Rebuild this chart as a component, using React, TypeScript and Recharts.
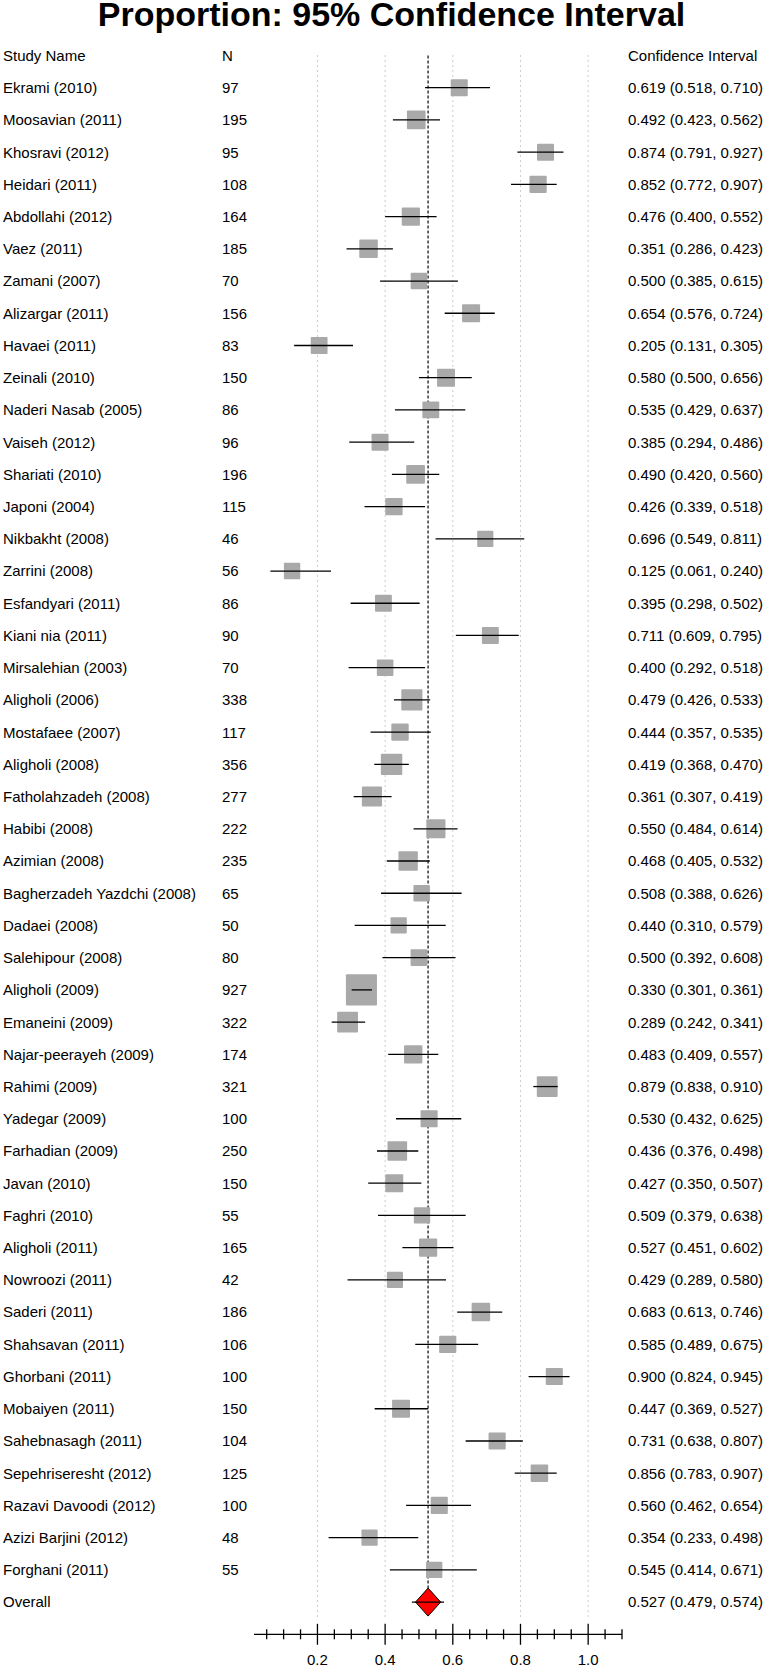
import { ScatterChart, Scatter, XAxis, YAxis, ZAxis, ErrorBar, ReferenceLine } from "recharts";

const FONT = "'Liberation Sans', Arial, sans-serif";

const studyNames = [
  "Ekrami (2010)", "Moosavian (2011)", "Khosravi (2012)", "Heidari (2011)", "Abdollahi (2012)",
  "Vaez (2011)", "Zamani (2007)", "Alizargar (2011)", "Havaei (2011)", "Zeinali (2010)",
  "Naderi Nasab (2005)", "Vaiseh (2012)", "Shariati (2010)", "Japoni (2004)", "Nikbakht (2008)",
  "Zarrini (2008)", "Esfandyari (2011)", "Kiani nia (2011)", "Mirsalehian (2003)", "Aligholi (2006)",
  "Mostafaee (2007)", "Aligholi (2008)", "Fatholahzadeh (2008)", "Habibi (2008)", "Azimian (2008)",
  "Bagherzadeh Yazdchi (2008)", "Dadaei (2008)", "Salehipour (2008)", "Aligholi (2009)", "Emaneini (2009)",
  "Najar-peerayeh (2009)", "Rahimi (2009)", "Yadegar (2009)", "Farhadian (2009)", "Javan (2010)",
  "Faghri (2010)", "Aligholi (2011)", "Nowroozi (2011)", "Saderi (2011)", "Shahsavan (2011)",
  "Ghorbani (2011)", "Mobaiyen (2011)", "Sahebnasagh (2011)", "Sepehriseresht (2012)", "Razavi Davoodi (2012)",
  "Azizi Barjini (2012)", "Forghani (2011)",
];

const sampleSizes = [
  97, 195, 95, 108, 164, 185, 70, 156, 83, 150,
  86, 96, 196, 115, 46, 56, 86, 90, 70, 338,
  117, 356, 277, 222, 235, 65, 50, 80, 927, 322,
  174, 321, 100, 250, 150, 55, 165, 42, 186, 106,
  100, 150, 104, 125, 100, 48, 55,
];

const estimates = [
  0.619, 0.492, 0.874, 0.852, 0.476, 0.351, 0.5, 0.654, 0.205, 0.58,
  0.535, 0.385, 0.49, 0.426, 0.696, 0.125, 0.395, 0.711, 0.4, 0.479,
  0.444, 0.419, 0.361, 0.55, 0.468, 0.508, 0.44, 0.5, 0.33, 0.289,
  0.483, 0.879, 0.53, 0.436, 0.427, 0.509, 0.527, 0.429, 0.683, 0.585,
  0.9, 0.447, 0.731, 0.856, 0.56, 0.354, 0.545,
];

const lowerCI = [
  0.518, 0.423, 0.791, 0.772, 0.4, 0.286, 0.385, 0.576, 0.131, 0.5,
  0.429, 0.294, 0.42, 0.339, 0.549, 0.061, 0.298, 0.609, 0.292, 0.426,
  0.357, 0.368, 0.307, 0.484, 0.405, 0.388, 0.31, 0.392, 0.301, 0.242,
  0.409, 0.838, 0.432, 0.376, 0.35, 0.379, 0.451, 0.289, 0.613, 0.489,
  0.824, 0.369, 0.638, 0.783, 0.462, 0.233, 0.414,
];

const upperCI = [
  0.71, 0.562, 0.927, 0.907, 0.552, 0.423, 0.615, 0.724, 0.305, 0.656,
  0.637, 0.486, 0.56, 0.518, 0.811, 0.24, 0.502, 0.795, 0.518, 0.533,
  0.535, 0.47, 0.419, 0.614, 0.532, 0.626, 0.579, 0.608, 0.361, 0.341,
  0.557, 0.91, 0.625, 0.498, 0.507, 0.638, 0.602, 0.58, 0.746, 0.675,
  0.945, 0.527, 0.807, 0.907, 0.654, 0.498, 0.671,
];

const overallLabel = "Overall";
const overallEstimate = 0.527;
const overallLower = 0.479;
const overallUpper = 0.574;

const xTicks = [
  0.05, 0.1, 0.15, 0.2, 0.25, 0.3, 0.35, 0.4, 0.45, 0.5, 0.55,
  0.6, 0.65, 0.7, 0.75, 0.8, 0.85, 0.9, 0.95, 1.0, 1.05, 1.1,
];
const gridValues = [0.2, 0.4, 0.6, 0.8, 1.0];

const fmt = (est: number, lo: number, hi: number) =>
  `${est.toFixed(3)} (${lo.toFixed(3)}, ${hi.toFixed(3)})`;

const studyRows = studyNames.map((name, i) => ({
  row: i + 1,
  name,
  n: sampleSizes[i],
  est: estimates[i],
  err: [estimates[i] - lowerCI[i], upperCI[i] - estimates[i]],
  ci: fmt(estimates[i], lowerCI[i], upperCI[i]),
}));

const overallRow = {
  row: studyRows.length + 1,
  name: overallLabel,
  n: null as number | null,
  est: overallEstimate,
  err: [overallEstimate - overallLower, overallUpper - overallEstimate],
  ci: fmt(overallEstimate, overallLower, overallUpper),
};

const allRows = [...studyRows, overallRow];
const rowTicks = [0, ...allRows.map((r) => r.row)];
const lastRow = overallRow.row;

const RowLabel = ({ y, payload }: any) => {
  const r = payload.value;
  const d = r === 0 ? null : allRows[r - 1];
  const cells = d
    ? [d.name, d.n == null ? "" : String(d.n), d.ci]
    : ["Study Name", "N", "Confidence Interval"];
  return (
    <g fontFamily={FONT} fontSize={15} fill="#000">
      <text x={3} y={y} dy="0.36em">{cells[0]}</text>
      <text x={222} y={y} dy="0.36em">{cells[1]}</text>
      <text x={628} y={y} dy="0.36em">{cells[2]}</text>
    </g>
  );
};

const AxisTick = ({ x, y, payload }: any) => {
  const v = payload.value;
  const major = Math.abs(v * 5 - Math.round(v * 5)) < 1e-6;
  const h = major ? 10.5 : 5;
  return (
    <g>
      <line x1={x} x2={x} y1={y - h} y2={y + h} stroke="#000" strokeWidth={1.3} />
      {major && (
        <text x={x} y={y + 31} textAnchor="middle" fontFamily={FONT} fontSize={15} fill="#000">
          {v.toFixed(1)}
        </text>
      )}
    </g>
  );
};

const BoxShape = (props: any) => {
  const { cx, cy, size } = props;
  return <rect x={cx - size / 2} y={cy - size / 2} width={size} height={size} rx={1} fill="#a9a9a9" />;
};

const DiamondShape = (props: any) => {
  const { cx, cy } = props;
  const w = 12.6;
  const h = 14;
  return (
    <polygon
      points={`${cx - w},${cy} ${cx},${cy - h} ${cx + w},${cy} ${cx},${cy + h}`}
      fill="#ff0000"
      stroke="#000"
      strokeWidth={1}
    />
  );
};

export default function App() {
  return (
    <div style={{ position: "absolute", left: 0, top: 0, width: 766, height: 1666, background: "#fff" }}>
      <svg width={766} height={40} style={{ position: "absolute", left: 0, top: 0 }}>
        <text x={391.5} y={26} textAnchor="middle" fontFamily={FONT} fontWeight="bold" fontSize={34} fill="#000">
          Proportion: 95% Confidence Interval
        </text>
      </svg>
      <div style={{ position: "absolute", left: 0, top: 0 }}>
        <ScatterChart width={766} height={1666} margin={{ top: 55.5, right: 144, bottom: 0, left: 0 }}>
          <XAxis
            type="number"
            dataKey="est"
            domain={[0.0125, 1.1]}
            allowDataOverflow
            ticks={xTicks}
            interval={0}
            height={31.7}
            tickSize={0}
            tickMargin={0}
            tickLine={false}
            axisLine={{ stroke: "#000", strokeWidth: 1.3 }}
            tick={<AxisTick />}
          />
          <YAxis
            type="number"
            dataKey="row"
            domain={[0, lastRow + 1]}
            reversed
            ticks={rowTicks}
            interval={0}
            width={254}
            axisLine={false}
            tickLine={false}
            tick={<RowLabel />}
          />
          <ZAxis type="number" dataKey="n" domain={[0, 1000]} range={[15.4, 32.3]} />
          {gridValues.map((g) => (
            <ReferenceLine
              key={g}
              segment={[{ x: g, y: 0 }, { x: g, y: lastRow + 0.5 }]}
              stroke="#9a9a9a"
              strokeWidth={1}
              strokeDasharray="1 4"
            />
          ))}
          <ReferenceLine
            segment={[{ x: overallEstimate, y: 0 }, { x: overallEstimate, y: lastRow }]}
            stroke="#444"
            strokeWidth={1.6}
            strokeDasharray="3 2"
          />
          <Scatter data={studyRows} shape={<BoxShape />} isAnimationActive={false} />
          <Scatter data={[overallRow]} shape={<DiamondShape />} isAnimationActive={false} />
          <Scatter data={allRows} shape={() => <g />} isAnimationActive={false} zIndex={800}>
            <ErrorBar dataKey="err" direction="x" width={0} stroke="#000" strokeWidth={1.3} zIndex={900} />
          </Scatter>
        </ScatterChart>
      </div>
    </div>
  );
}
